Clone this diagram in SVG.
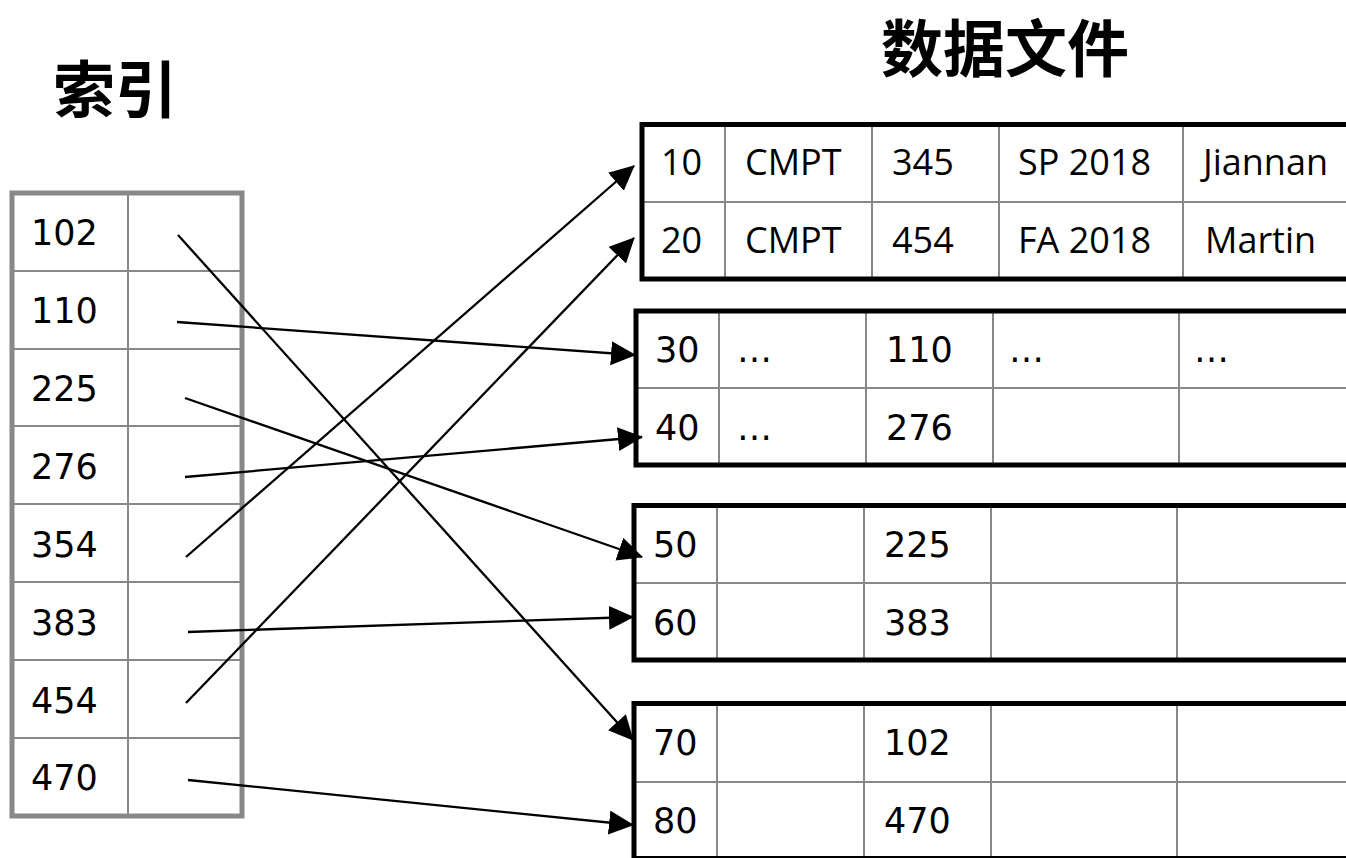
<svg xmlns="http://www.w3.org/2000/svg" width="1346" height="858" viewBox="0 0 1346 858">
<style>
.title{font-family:"Noto Sans CJK SC","Noto Sans",sans-serif;font-weight:bold;fill:#000}
.idx{font-family:"DejaVu Sans",sans-serif;font-size:35px;fill:#000}
.cal{font-family:"Open Sans","Liberation Sans",sans-serif;font-size:36px;fill:#000}
.dv{font-family:"DejaVu Sans",sans-serif;font-size:35px;fill:#000}
.outer-g{fill:#fff;stroke:#888;stroke-width:5}
.cell{stroke:#888;stroke-width:2;fill:none}
.outer-b{fill:none;stroke:#000;stroke-width:5}
.arrow{stroke:#000;stroke-width:2.3;fill:none;marker-end:url(#ah)}
</style>
<defs>
<marker id="ah" markerUnits="userSpaceOnUse" markerWidth="26" markerHeight="26" refX="24" refY="12" orient="auto">
<path d="M0,0 L25,12 L0,24 z" fill="#000"/>
</marker>
</defs>
<rect width="1346" height="858" fill="#fff"/>
<text class="title" x="53" y="113" font-size="62">索引</text>
<text class="title" x="881" y="72" font-size="62">数据文件</text>

<g id="index">
<rect class="outer-g" x="12" y="193" width="230" height="623"/>
<path class="cell" d="M128,193V816 M12,271H242 M12,349H242 M12,426H242 M12,504H242 M12,582H242 M12,660H242 M12,738H242"/>
<text class="idx" x="31" y="245">102</text>
<text class="idx" x="31" y="323">110</text>
<text class="idx" x="31" y="401">225</text>
<text class="idx" x="31" y="479">276</text>
<text class="idx" x="31" y="557">354</text>
<text class="idx" x="31" y="635">383</text>
<text class="idx" x="31" y="713">454</text>
<text class="idx" x="31" y="790">470</text>
</g>

<g id="block1">
<rect x="642" y="124.5" width="720" height="154.5" fill="#fff"/>
<path class="cell" d="M642,202H1362 M725,124.5V279 M872,124.5V279 M999,124.5V279 M1183,124.5V279"/>
<rect class="outer-b" x="642" y="124.5" width="720" height="154.5"/>
<text class="cal" x="661" y="175">10</text>
<text class="cal" x="745" y="175">CMPT</text>
<text class="cal" x="892" y="175">345</text>
<text class="cal" x="1018" y="175">SP 2018</text>
<text class="cal" x="1203" y="175">Jiannan</text>
<text class="cal" x="661" y="253">20</text>
<text class="cal" x="745" y="253">CMPT</text>
<text class="cal" x="892" y="253">454</text>
<text class="cal" x="1018" y="253">FA 2018</text>
<text class="cal" x="1205" y="253">Martin</text>
</g>

<g id="block2">
<rect x="636" y="311" width="726" height="154" fill="#fff"/>
<path class="cell" d="M636,388H1362 M719,311V465 M866,311V465 M993,311V465 M1179,311V465"/>
<rect class="outer-b" x="636" y="311" width="726" height="154"/>
<text class="dv" x="655" y="362">30</text>
<text class="dv" x="737" y="362">…</text>
<text class="dv" x="886" y="362">110</text>
<text class="dv" x="1009" y="362">…</text>
<text class="dv" x="1194" y="362">…</text>
<text class="dv" x="655" y="440">40</text>
<text class="dv" x="737" y="440">…</text>
<text class="dv" x="886" y="440">276</text>
</g>

<g id="block3">
<rect x="634" y="505.5" width="728" height="154.5" fill="#fff"/>
<path class="cell" d="M634,583H1362 M717,505.5V660 M864,505.5V660 M991,505.5V660 M1177,505.5V660"/>
<rect class="outer-b" x="634" y="505.5" width="728" height="154.5"/>
<text class="dv" x="653" y="557">50</text>
<text class="dv" x="884" y="557">225</text>
<text class="dv" x="653" y="635">60</text>
<text class="dv" x="884" y="635">383</text>
</g>

<g id="block4">
<rect x="634" y="703.5" width="728" height="155" fill="#fff"/>
<path class="cell" d="M634,782H1362 M717,703.5V860 M864,703.5V860 M991,703.5V860 M1177,703.5V860"/>
<rect class="outer-b" x="634" y="703.5" width="728" height="155"/>
<text class="dv" x="653" y="755">70</text>
<text class="dv" x="884" y="755">102</text>
<text class="dv" x="653" y="833">80</text>
<text class="dv" x="884" y="833">470</text>
</g>

<g id="connectors">
<line class="arrow" x1="178" y1="235" x2="633" y2="740"/>
<line class="arrow" x1="177" y1="322" x2="635" y2="355"/>
<line class="arrow" x1="185" y1="398" x2="642" y2="557"/>
<line class="arrow" x1="185" y1="477" x2="642" y2="437"/>
<line class="arrow" x1="186" y1="557" x2="634" y2="166"/>
<line class="arrow" x1="188" y1="632" x2="633" y2="617"/>
<line class="arrow" x1="186" y1="703" x2="634" y2="238"/>
<line class="arrow" x1="188" y1="780" x2="633" y2="825"/>
</g>
</svg>
